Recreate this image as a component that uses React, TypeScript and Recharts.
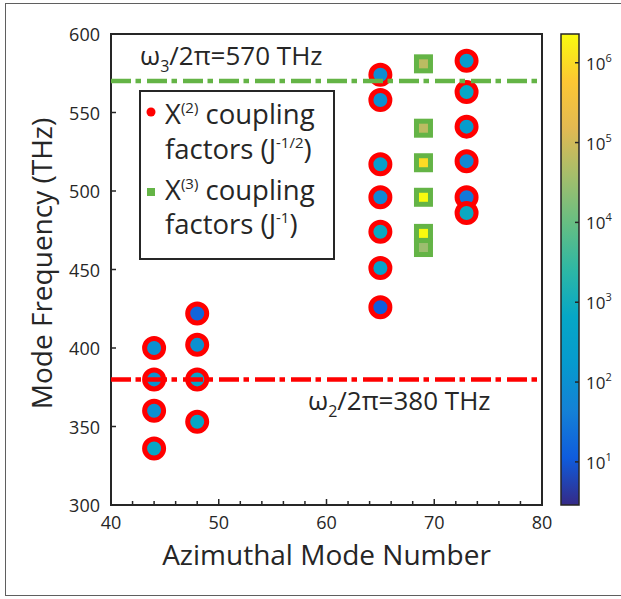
import React from 'react';
import { ScatterChart, Scatter, XAxis, YAxis, ReferenceLine, ReferenceArea, Legend, Label } from 'recharts';

const FONT = '"Open Sans", "DejaVu Sans", sans-serif';
const INK = '#262626';
const RED = '#FF0000';
const GREEN = '#64B446';

// χ(2) modes: azimuthal number, frequency (THz), log10 of the coupling factor
const CHI2_M = [44, 44, 44, 44, 48, 48, 48, 48, 65, 65, 65, 65, 65, 65, 65, 73, 73, 73, 73, 73, 73];
const CHI2_F = [400, 380, 360, 336, 422, 402, 380, 353, 574, 558, 517, 496, 474, 451, 426, 583, 563, 541, 519, 496, 486];
const CHI2_LOGK = [2.0, 2.1, 2.0, 2.8, 1.2, 2.0, 2.7, 2.8, 1.9, 2.0, 2.4, 1.8, 2.9, 2.6, 1.05, 2.3, 2.8, 2.3, 1.8, 1.5, 2.9];

// χ(3) modes
const CHI3_M = [69, 69, 69, 69, 69, 69];
const CHI3_F = [581, 540, 518, 496, 473, 464];
const CHI3_LOGK = [4.8, 4.8, 6.0, 6.35, 6.35, 4.5];

const X_TICKS = [40, 42, 44, 46, 48, 50, 52, 54, 56, 58, 60, 62, 64, 66, 68, 70, 72, 74, 76, 78, 80];
const Y_TICKS = [300, 350, 400, 450, 500, 550, 600];
const CBAR_TICKS = [1, 2, 3, 4, 5, 6];
const LOG_MIN = 0.46;
const LOG_MAX = 6.36;

// parula, 11 samples
const PARULA = [
  [53, 42, 135], [15, 92, 221], [20, 129, 214], [6, 154, 206], [6, 167, 198], [46, 183, 164],
  [103, 190, 130], [165, 190, 107], [226, 185, 82], [253, 199, 51], [249, 251, 14],
];

const parula = (lg: number) => {
  const t = Math.min(1, Math.max(0, (lg - LOG_MIN) / (LOG_MAX - LOG_MIN))) * (PARULA.length - 1);
  const i = Math.min(PARULA.length - 2, Math.floor(t));
  const f = t - i;
  const c = PARULA[i].map((v, k) => Math.round(v + (PARULA[i + 1][k] - v) * f));
  return `rgb(${c[0]},${c[1]},${c[2]})`;
};

const chi2 = CHI2_M.map((m, i) => ({ m, f: CHI2_F[i], color: parula(CHI2_LOGK[i]) }));
const chi3 = CHI3_M.map((m, i) => ({ m, f: CHI3_F[i], color: parula(CHI3_LOGK[i]) }));

const RingDot = (p: any) => (
  <circle cx={p.cx} cy={p.cy} r={9.5} fill={p.payload.color} stroke={RED} strokeWidth={5} />
);

const SquareDot = (p: any) => (
  <rect x={p.cx - 7} y={p.cy - 7} width={14} height={14} fill={p.payload.color} stroke={GREEN} strokeWidth={5} />
);

const XTick = (p: any) => {
  const v = p.payload.value;
  const major = v % 10 === 0;
  return (
    <g>
      <line x1={p.x} x2={p.x} y1={p.y} y2={p.y - (major ? 6 : 4)} stroke={INK} strokeWidth={1.5} />
      {major && (
        <text x={p.x} y={p.y + 24} textAnchor="middle" fontSize={18} fill={INK} fontFamily={FONT}>{v}</text>
      )}
    </g>
  );
};

const YTick = (p: any) => (
  <g>
    <line x1={p.x} x2={p.x + 5} y1={p.y} y2={p.y} stroke={INK} strokeWidth={1.5} />
    <text x={p.x - 11} y={p.y + 7} textAnchor="end" fontSize={18} fill={INK} fontFamily={FONT}>{p.payload.value}</text>
  </g>
);

const W3Label = (p: any) => (
  <text x={p.viewBox.x + 29} y={p.viewBox.y - 16} fontSize={26} fill={INK} fontFamily={FONT}>
    ω<tspan fontSize={16} dy={7}>3</tspan><tspan dy={-7}>/2π=570 THz</tspan>
  </text>
);

const W2Label = (p: any) => (
  <text x={p.viewBox.x + 197} y={p.viewBox.y + 31} fontSize={26} fill={INK} fontFamily={FONT}>
    ω<tspan fontSize={16} dy={7}>2</tspan><tspan dy={-7}>/2π=380 THz</tspan>
  </text>
);

const LegendBox = () => (
  <svg width={196} height={170} style={{ display: 'block' }} fontFamily={FONT} fill={INK}>
    <rect x={1} y={1} width={194} height={168} fill="#fff" stroke={INK} strokeWidth={2} />
    <circle cx={12} cy={22} r={4.5} fill={RED} />
    <text x={26} y={34} fontSize={27.5}>
      X<tspan fontSize={15} dy={-11}>(2)</tspan><tspan dy={11}> coupling</tspan>
    </text>
    <text x={26} y={69} fontSize={27.5}>
      factors (J<tspan fontSize={15} dy={-11}>-1/2</tspan><tspan dy={11}>)</tspan>
    </text>
    <rect x={8} y={98} width={8} height={8} fill={GREEN} />
    <text x={26} y={110} fontSize={27.5}>
      X<tspan fontSize={15} dy={-11}>(3)</tspan><tspan dy={11}> coupling</tspan>
    </text>
    <text x={26} y={144} fontSize={27.5}>
      factors (J<tspan fontSize={15} dy={-11}>-1</tspan><tspan dy={11}>)</tspan>
    </text>
  </svg>
);

const Colorbar = () => {
  const x = 561, w = 18, top = 34, h = 471;
  const yOf = (lg: number) => top + h - ((lg - LOG_MIN) / (LOG_MAX - LOG_MIN)) * h;
  return (
    <svg width={621} height={599} style={{ position: 'absolute', left: 0, top: 0, pointerEvents: 'none' }} fontFamily={FONT}>
      <defs>
        <linearGradient id="parula" x1="0" y1="1" x2="0" y2="0">
          {PARULA.map((c, i) => (
            <stop key={i} offset={i / (PARULA.length - 1)} stopColor={`rgb(${c[0]},${c[1]},${c[2]})`} />
          ))}
        </linearGradient>
      </defs>
      <rect x={x} y={top} width={w} height={h} fill="url(#parula)" stroke={INK} strokeWidth={1.5} />
      {CBAR_TICKS.map((lg) => (
        <g key={lg}>
          <line x1={x + w} x2={x + w - 4} y1={yOf(lg)} y2={yOf(lg)} stroke={INK} strokeWidth={1.5} />
          <text x={x + w + 7} y={yOf(lg) + 7} fontSize={17} fill={INK}>
            10<tspan fontSize={11} dy={-8}>{lg}</tspan>
          </text>
        </g>
      ))}
    </svg>
  );
};

export default function App() {
  return (
    <div style={{ position: 'absolute', left: 0, top: 0, width: 621, height: 599, overflow: 'hidden', background: '#fff', fontFamily: FONT }}>
      <div style={{ position: 'absolute', left: 5, top: 3, width: 700, height: 591, border: '1.5px solid #5f5f5f' }} />
      <ScatterChart width={621} height={599} margin={{ top: 34, right: 79, bottom: 0, left: 11 }}>
        <XAxis
          type="number"
          dataKey="m"
          domain={[40, 80]}
          ticks={X_TICKS}
          interval={0}
          height={94}
          tickSize={0}
          tickMargin={0}
          tickLine={false}
          tick={XTick}
          axisLine={{ stroke: INK, strokeWidth: 2 }}
        >
          <Label
            content={(p: any) => (
              <text x={p.viewBox.x + p.viewBox.width / 2} y={p.viewBox.y + 60} textAnchor="middle" fontSize={28} fill={INK} fontFamily={FONT}>
                Azimuthal Mode Number
              </text>
            )}
          />
        </XAxis>
        <YAxis
          type="number"
          dataKey="f"
          domain={[300, 600]}
          ticks={Y_TICKS}
          interval={0}
          width={100}
          tickSize={0}
          tickMargin={0}
          tickLine={false}
          tick={YTick}
          axisLine={{ stroke: INK, strokeWidth: 2 }}
        >
          <Label
            content={(p: any) => {
              const cx = 52;
              const cy = p.viewBox.y + p.viewBox.height / 2 - 6;
              return (
                <text x={cx} y={cy} transform={`rotate(-90 ${cx} ${cy})`} textAnchor="middle" fontSize={28} fill={INK} fontFamily={FONT}>
                  Mode Frequency (THz)
                </text>
              );
            }}
          />
        </YAxis>
        <ReferenceArea x1={40} x2={80} y1={300} y2={600} fill="none" stroke={INK} strokeWidth={2} fillOpacity={0} />
        <Scatter name="chi2" data={chi2} shape={RingDot} isAnimationActive={false} />
        <Scatter name="chi3" data={chi3} shape={SquareDot} isAnimationActive={false} />
        <ReferenceLine y={570} stroke={GREEN} strokeWidth={4.5} strokeDasharray="20 4.5 5.5 6" label={W3Label} zIndex={700} />
        <ReferenceLine y={380} stroke={RED} strokeWidth={4.5} strokeDasharray="20 4.5 5.5 6" label={W2Label} zIndex={700} />
        <Legend
          layout="horizontal"
          verticalAlign="middle"
          align="center"
          content={LegendBox}
          wrapperStyle={{ left: 139, top: 90, width: 196, height: 170 }}
        />
      </ScatterChart>
      <Colorbar />
    </div>
  );
}
